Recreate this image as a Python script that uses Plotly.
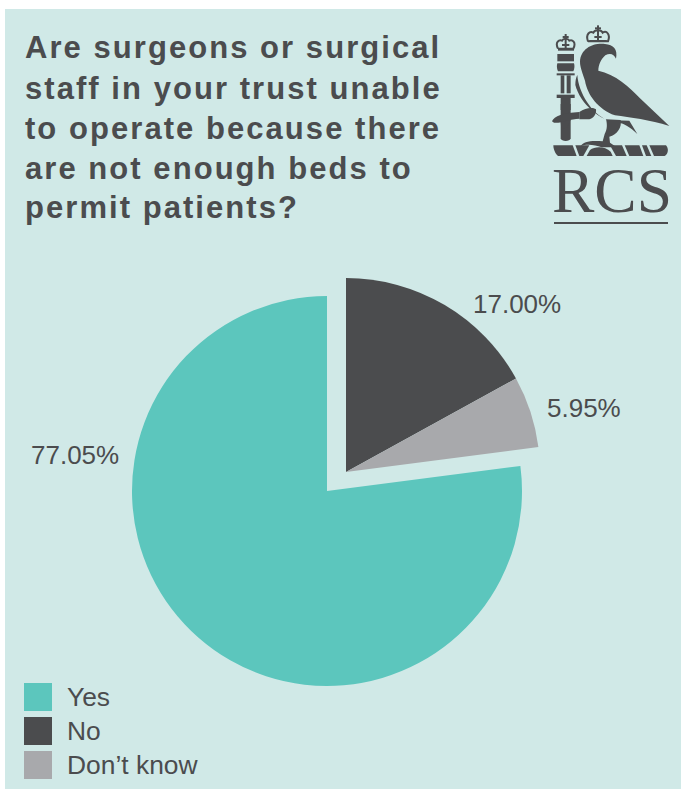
import plotly.graph_objects as go

W, H = 681, 789

categories = ["Yes", "No", "Don’t know"]
shares = [77.05, 17.00, 5.95]
slice_colors = ["#5cc6bd", "#4b4c4e", "#a8a9ac"]
title_lines = [
    "Are surgeons or surgical",
    "staff in your trust unable",
    "to operate because there",
    "are not enough beds to",
    "permit patients?",
]

PANEL = "#d0e9e7"
INK = "#4b4c4e"
FONT = "Liberation Sans"


def fx(px):
    return px / W


def fy(py):
    return 1 - py / H


def domain(cx, cy, r):
    return dict(x=[fx(cx - r), fx(cx + r)], y=[fy(cy + r), fy(cy - r)])


def crest_path(spec):
    """Convert a crest outline in local units (3 per pixel) to paper coordinates."""
    parts = []
    for seg in spec.split(";"):
        seg = seg.strip()
        if seg == "Z":
            parts.append("Z")
            continue
        cmd, nums = seg[0], seg[1:].split()
        pts = []
        for i in range(0, len(nums), 2):
            x = 530 + float(nums[i]) / 3
            y = 10 + float(nums[i + 1]) / 3
            pts.append(f"{fx(x):.5f},{fy(y):.5f}")
        parts.append(cmd + " " + " ".join(pts))
    return " ".join(parts)


def blob(spec, color=INK):
    return dict(
        type="path", xref="paper", yref="paper", path=crest_path(spec),
        fillcolor=color, line=dict(color=color, width=0), layer="above",
    )


def stroke(spec, color=INK, width=2):
    return dict(
        type="path", xref="paper", yref="paper", path=crest_path(spec),
        line=dict(color=color, width=width), layer="above",
    )


fig = go.Figure()

# Both pies start the "No" slice at twelve o'clock; "Yes" is listed first, so rotate by the rest.
start_angle = sum(shares[1:]) / sum(shares) * 360

# Main slice and the detached wedge are two pies so the wedge can shift as one piece.
fig.add_trace(go.Pie(
    labels=categories, values=shares, sort=False, direction="clockwise", rotation=start_angle,
    marker=dict(colors=[slice_colors[0], "rgba(0,0,0,0)", "rgba(0,0,0,0)"], line=dict(width=0)),
    textinfo="none", hoverinfo="label+percent", showlegend=False,
    domain=domain(327, 491, 195),
))
fig.add_trace(go.Pie(
    labels=categories, values=shares, sort=False, direction="clockwise", rotation=start_angle,
    marker=dict(colors=["rgba(0,0,0,0)", slice_colors[1], slice_colors[2]], line=dict(width=0)),
    textinfo="none", hoverinfo="label+percent", showlegend=False,
    domain=domain(346, 472, 194),
))

shapes = [dict(type="rect", xref="paper", yref="paper", x0=fx(5), x1=1, y0=0, y1=fy(9),
               fillcolor=PANEL, line=dict(width=0), layer="below")]
annotations = []


def text(x, y, s, size, color=INK, anchor="left", bold=False, family=FONT):
    annotations.append(dict(
        xref="paper", yref="paper", x=fx(x), y=fy(y), text=f"<b>{s}</b>" if bold else s,
        showarrow=False, xanchor=anchor, yanchor="middle", align=anchor,
        font=dict(family=family, size=size, color=color),
    ))


# Heading
for i, line in enumerate(title_lines):
    text(22.5, 48 + i * 40, line, 31, bold=True)

# Value labels
label_pos = [(75, 455), (517, 304), (584, 408)]
for (x, y), v in zip(label_pos, shares):
    text(x, y, f"{v:.2f}%", 26, anchor="center")

# Legend
for i, (cat, col) in enumerate(zip(categories, slice_colors)):
    top = 683 + i * 34
    shapes.append(dict(type="rect", xref="paper", yref="paper", x0=fx(24), x1=fx(52),
                       y0=fy(top + 28), y1=fy(top), fillcolor=col, line=dict(width=0)))
    text(65, top + 14, cat, 26.4)

# College crest: eagle
shapes += [
    blob("M 150 155; C 152 115 190 98 225 102; C 250 104 264 118 258 146; C 252 132 240 128 226 136; "
         "C 214 146 205 165 205 182; C 255 192 300 232 330 265; L 418 348; C 360 330 300 322 255 316; "
         "C 205 298 172 255 165 212; C 158 190 150 172 150 155; Z"),
    blob("M 142 195; C 146 250 186 312 232 330; L 298 332; L 322 372; C 300 350 280 340 268 338; "
         "C 210 335 150 280 136 225; C 136 212 138 203 142 195; Z"),
    # leg and talons
    blob("M 228 328; L 272 330; C 276 352 262 374 238 380; L 240 398; L 260 412; L 215 412; "
         "C 195 404 170 402 152 408; C 158 395 185 390 218 394; L 224 372; C 232 360 232 342 228 328; Z"),
    # arm gripping the mace
    blob("M 148 306; C 165 296 185 290 198 298; C 200 312 190 325 178 328; L 148 328; Z"),
    # perch bar with diagonal cuts
    blob("M 70 406; L 128 406; L 140 438; L 84 438; C 76 432 70 418 70 406; Z"),
    blob("M 136 406; L 178 406; L 160 438; L 148 438; Z"),
    blob("M 240 406; L 276 406; L 290 438; L 258 438; Z"),
    blob("M 284 406; L 328 406; L 340 438; L 298 438; Z"),
    blob("M 336 406; L 350 406; L 364 438; L 348 438; Z"),
    blob("M 358 406; L 408 406; C 416 414 416 432 404 438; L 372 438; Z"),
    blob("M 180 420; C 195 408 225 408 242 425; L 248 438; L 170 438; Z"),
    # mace shaft and head
    blob("M 92 282; L 122 282; L 122 385; C 120 396 94 396 92 385; Z"),
    blob("M 82 132; L 132 132; L 132 154; L 82 154; Z"),
    blob("M 82 160; C 80 166 80 176 84 184; L 130 184; C 134 176 134 166 132 160; Z"),
    blob("M 80 190; L 134 190; L 134 196; L 80 196; Z"),
    blob("M 92 196; L 103 196; L 103 250; L 92 250; Z"),
    blob("M 110 196; L 122 196; L 122 250; L 110 250; Z"),
    blob("M 80 254; L 134 254; L 134 264; L 80 264; Z"),
    blob("M 92 264; L 122 264; L 122 300; L 92 300; Z"),
    # sword guard
    blob("M 66 334; C 72 318 100 308 148 306; L 148 326; C 120 326 96 340 72 338; Z"),
    blob("M 92 336; L 122 330; L 112 352; L 94 358; Z"),
    # rule under the college initials
    dict(type="rect", xref="paper", yref="paper", x0=fx(554), x1=fx(668), y0=fy(224), y1=fy(222),
         fillcolor=INK, line=dict(width=0)),
    # crown on the eagle
    stroke("M 174 94; C 166 72 180 62 190 68; C 194 58 214 58 218 68; C 230 60 242 74 234 94; L 174 94"),
    blob("M 178 90; L 230 90; L 230 96; L 178 96; Z"),
    blob("M 201 46; L 207 46; L 207 90; L 201 90; Z"),
    blob("M 195 52; L 213 52; L 213 58; L 195 58; Z"),
    blob("M 193 78; L 215 78; L 215 84; L 193 84; Z"),
    # crown on the mace
    stroke("M 84 116; C 74 96 88 88 96 92; C 100 84 114 84 118 92; C 126 88 140 96 130 116; L 84 116"),
    blob("M 84 114; L 132 114; L 132 122; L 84 122; Z"),
    blob("M 104 72; L 110 72; L 110 114; L 104 114; Z"),
    blob("M 98 78; L 116 78; L 116 84; L 98 84; Z"),
    blob("M 96 102; L 118 102; L 118 108; L 96 108; Z"),
]

text(611.5, 190, "RCS", 63.5, family="Liberation Serif", anchor="center")

fig.update_layout(
    width=W, height=H, autosize=False,
    margin=dict(l=0, r=0, t=0, b=0),
    paper_bgcolor="white", plot_bgcolor="white",
    showlegend=False, shapes=shapes, annotations=annotations,
)

# Plotly has no letter-spacing option, so the heading lines get it once drawn.
spacing_js = """
var gd = document.getElementById('{plot_id}');
gd.querySelectorAll('.annotation-text').forEach(function (t) {
  if (t.innerHTML.indexOf('bold') >= 0) {
    t.style.letterSpacing = '2.05px';
  }
});
"""
fig.write_html("out.html", post_script=spacing_js, config=dict(displayModeBar=False))
